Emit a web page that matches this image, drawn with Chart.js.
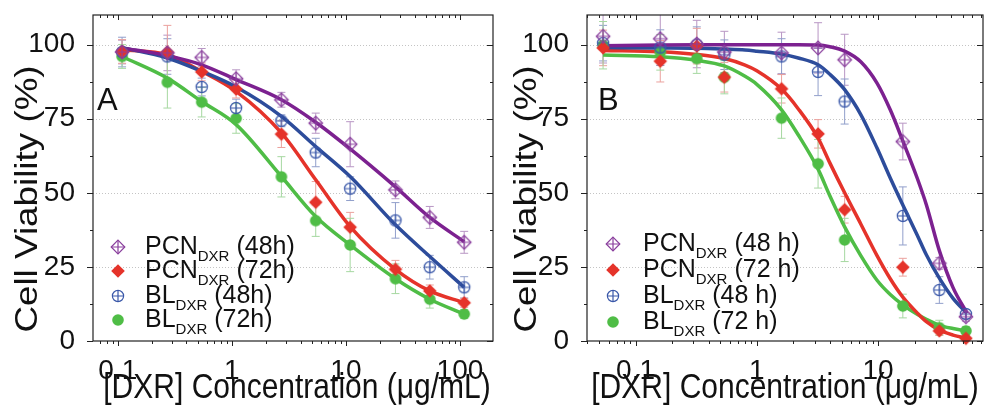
<!DOCTYPE html>
<html>
<head>
<meta charset="utf-8">
<script src="https://cdn.jsdelivr.net/npm/chart.js@4.4.0/dist/chart.umd.min.js"></script>
<style>
  html, body { margin: 0; padding: 0; background: #fff; }
  #wrapA { position: absolute; left: 0; top: 0; width: 500px; height: 405px; }
  #wrapB { position: absolute; left: 500px; top: 0; width: 490px; height: 405px; }
</style>
</head>
<body>
<div id="wrapA"><canvas id="chartA"></canvas></div>
<div id="wrapB"><canvas id="chartB"></canvas></div>
<script>
// ---- panel A data ----
var concA = [0.109, 0.272, 0.544, 1.09, 2.72, 5.44, 10.9, 27.2, 54.4, 109];
var pcn48A = [97.5, 97.2, 95.7, 88.5, 81.4, 73.5, 66.4, 51, 41.7, 33.3];
var pcn72A = [97.7, 97.5, 90.8, 85, 69.8, 46.8, 38.4, 24.2, 16.9, 12.9];
var bl48A = [97.5, 96, 85.7, 78.6, 74.3, 63.6, 51.4, 40.7, 24.9, 18.1];
var bl72A = [96, 87.3, 80.6, 75.1, 55.4, 40.6, 32.4, 21, 14.1, 9.1];
var pcn48AErr = [4, 6, 3, 3, 2.5, 3.4, 7.6, 3, 3.7, 3.7];
var pcn72AErr = [4, 9, 3, 3, 4.5, 7, 5, 3, 2, 1.5];
var bl48AErr = [5, 6, 3, 3, 2, 4.8, 4, 6, 4, 3.6];
var bl72AErr = [4, 8.7, 5, 5, 6.8, 5.3, 9, 5, 3, 1.5];
// fitted curves
var fitXA = [0.109, 0.272, 0.544, 1.09, 2.72, 5.44, 10.9, 27.2, 54.4, 109];
var fitPcn48A = [98.9, 96.3, 93.2, 88.2, 81.4, 73.8, 64.8, 52, 41.7, 33.5];
var fitPcn72A = [98.3, 96.6, 91, 84.2, 70.2, 54.4, 38.6, 24.2, 16.9, 12.9];
var fitBl48A = [99, 95.5, 91, 85.7, 75.8, 65.6, 55.5, 39.2, 28.5, 18.1];
var fitBl72A = [96, 88.7, 80.8, 73, 55.5, 42, 32.4, 21, 14.1, 9.1];

// ---- panel B data ----
var concB = [0.054, 0.16, 0.32, 0.54, 1.6, 3.2, 5.3, 16, 32, 53];
var pcn48B = [102.8, 102, 100.2, 97.5, 97.2, 98.9, 94.9, 67.3, 26.2, 8.2];
var pcn72B = [98.9, 94.4, 99.5, 89, 85.1, 69.9, 44.3, 24.9, 3.4, 0.9];
var bl48B = [100.5, 99, 100, 96.6, 96, 90.8, 80.8, 42.2, 17.2, 9.1];
var bl72B = [99.8, 97.4, 95.3, 89, 75.2, 59.8, 34.1, 11.8, 4.5, 3.4];
var pcn48BErr = [9, 9, 8, 7, 7, 8.5, 8.6, 6.2, 2, 1.5];
var pcn72BErr = [6, 7, 6, 5, 4.8, 4.8, 4.5, 3, 1.5, 1];
var bl48BErr = [6, 6, 6, 5, 6, 8, 7.6, 9.8, 4.5, 1.5];
var bl72BErr = [8, 6, 5, 5.6, 6.8, 8.2, 7.3, 4, 2.5, 1.5];
var fitXB = [0.054, 0.16, 0.32, 0.54, 0.8, 1.0, 1.6, 2.2, 3.2, 4.0, 5.3, 7.2, 9.8, 12.6, 16, 21, 25, 32, 41.5, 54];
var fitPcn48B = [99.6, 99.9, 100, 100, 100, 100, 100, 100, 99.9, 99.3, 97.8, 94.2, 87, 78, 67.5, 55, 46, 30.5, 18, 9.5];
var fitPcn72B = [98, 97.6, 96.7, 95.3, 93.1, 91.2, 85, 78.3, 68.5, 60.1, 50, 39.5, 28.8, 21, 14.8, 9.5, 6.5, 3.7, 2, 0.9];
var fitBl48B = [99, 98.9, 98.8, 98.5, 98.2, 97.8, 96.8, 95.5, 93.2, 90, 84.8, 76.4, 65.1, 55, 45.9, 35.8, 29.1, 21.2, 14.4, 9.4];
var fitBl72B = [96.5, 95.9, 94.7, 92.8, 89.3, 86.6, 78, 69.5, 58, 49, 38.5, 28.8, 20.5, 15.7, 12.2, 9, 7.3, 5.3, 4.2, 3.4];

// ---- axes / labels ----
var xTicksA = [0.1, 1, 10, 100];
var xTicksB = [0.1, 1, 10];
var yTicks = [0, 25, 50, 75, 100];
var xTitle = "[DXR] Concentration (\u03bcg/mL)";
var yTitle = "Cell Viability (%)";
var legendA = [["PCN", "DXR", " (48h)"], ["PCN", "DXR", " (72h)"], ["BL", "DXR", " (48h)"], ["BL", "DXR", " (72h)"]];
var legendB = [["PCN", "DXR", " (48 h)"], ["PCN", "DXR", " (72 h)"], ["BL", "DXR", " (48 h)"], ["BL", "DXR", " (72 h)"]];

var NARROW = "'Liberation Sans Narrow', 'Liberation Sans', Arial, sans-serif";
var SANS = "'Liberation Sans', Arial, sans-serif";

var colPurple = "#7c2190", colRed = "#e5332a", colBlue = "#2d4c9b", colGreen = "#4fbd46";
var errPurple = "#b896c4", errRed = "#eba19d", errBlue = "#919fcb", errGreen = "#a6d8a1";

function makeMarker(kind, color, r) {
    var s = Math.ceil(r * 2 + 4);
    var c = document.createElement("canvas");
    c.width = s; c.height = s;
    var g = c.getContext("2d");
    var m = s / 2;
    g.strokeStyle = color; g.fillStyle = color; g.lineWidth = 1.2;
    g.beginPath();
    if (kind.indexOf("diamond") === 0) {
        g.moveTo(m, m - r); g.lineTo(m + r, m); g.lineTo(m, m + r); g.lineTo(m - r, m); g.closePath();
    } else {
        g.arc(m, m, r, 0, Math.PI * 2);
    }
    if (kind.indexOf("Cross") > 0) {
        g.stroke();
        g.beginPath();
        g.moveTo(m - r, m); g.lineTo(m + r, m);
        g.moveTo(m, m - r); g.lineTo(m, m + r);
        g.stroke();
    } else {
        g.fill();
    }
    return c;
}

var mkPcn48 = makeMarker("diamondCross", "#8a3f9d", 6.8);
var mkPcn72 = makeMarker("diamond", colRed, 6.8);
var mkBl48 = makeMarker("circleCross", "#3a58a9", 5.6);
var mkBl72 = makeMarker("circle", colGreen, 5.8);

function pts(xs, ys) {
    return xs.map(function(x, i) { return { x: x, y: ys[i] }; });
}

var errorBars = {
    id: "errorBars",
    beforeDatasetsDraw: function(chart, args, opts) {
        var ctx = chart.ctx, xs = chart.scales.x, ys = chart.scales.y, a = chart.chartArea;
        ctx.save();
        ctx.beginPath();
        ctx.rect(a.left, a.top, a.right - a.left, a.bottom - a.top);
        ctx.clip();
        // dotted gridlines
        ctx.strokeStyle = "#c4c4c4";
        ctx.lineWidth = 1;
        ctx.setLineDash([1, 2]);
        yTicks.forEach(function(v) {
            if (v === 0) return;
            var py = Math.round(ys.getPixelForValue(v)) + 0.5;
            ctx.beginPath(); ctx.moveTo(a.left, py); ctx.lineTo(a.right, py); ctx.stroke();
        });
        ctx.setLineDash([]);
        ctx.lineWidth = 1;
        opts.sets.forEach(function(s) {
            ctx.strokeStyle = s.color;
            s.x.forEach(function(xv, i) {
                var px = xs.getPixelForValue(xv);
                var top = ys.getPixelForValue(s.y[i] + s.err[i]);
                var bot = ys.getPixelForValue(s.y[i] - s.err[i]);
                ctx.beginPath();
                ctx.moveTo(px, top); ctx.lineTo(px, bot);
                ctx.moveTo(px - 4, top); ctx.lineTo(px + 4, top);
                ctx.moveTo(px - 4, bot); ctx.lineTo(px + 4, bot);
                ctx.stroke();
            });
        });
        ctx.restore();
    }
};

var frame = {
    id: "frame",
    afterDatasetsDraw: function(chart) {
        var ctx = chart.ctx, xs = chart.scales.x, ys = chart.scales.y, a = chart.chartArea;
        ctx.save();
        ctx.strokeStyle = "#222";
        ctx.lineWidth = 1.2;
        ctx.strokeRect(a.left, a.top, a.right - a.left, a.bottom - a.top);
        ctx.lineWidth = 1;
        ctx.beginPath();
        var lo = Math.floor(Math.log10(xs.min)), hi = Math.ceil(Math.log10(xs.max));
        for (var d = lo; d <= hi; d++) {
            for (var m = 1; m <= 9; m++) {
                var v = m * Math.pow(10, d);
                if (v < xs.min || v > xs.max) continue;
                var px = Math.round(xs.getPixelForValue(v)) + 0.5;
                var len = m === 1 ? 5 : 3;
                ctx.moveTo(px, a.bottom); ctx.lineTo(px, a.bottom + len);
                ctx.moveTo(px, a.top); ctx.lineTo(px, a.top + len);
            }
        }
        for (var y = 0; y <= ys.max; y += 12.5) {
            var py = Math.round(ys.getPixelForValue(y)) + 0.5;
            var ln = (y % 25 === 0) ? 6 : 3;
            ctx.moveTo(a.left, py); ctx.lineTo(a.left - ln, py);
            ctx.moveTo(a.right, py); ctx.lineTo(a.right - ln, py);
        }
        ctx.stroke();
        ctx.restore();
    },
    afterDraw: function(chart, args, opts) {
        var ctx = chart.ctx, a = chart.chartArea;
        ctx.save();
        ctx.fillStyle = "#111";
        // axis titles (slightly stretched like the original figure)
        ctx.save();
        ctx.translate(opts.yTitleX, opts.yTitleY);
        ctx.rotate(-Math.PI / 2);
        ctx.scale(1.15, 1);
        ctx.font = "32px " + SANS;
        ctx.textAlign = "center";
        ctx.textBaseline = "alphabetic";
        ctx.fillText(yTitle, 0, 11.5);
        ctx.restore();
        ctx.save();
        ctx.translate((a.left + a.right) / 2 + opts.xTitleShift, 398);
        ctx.scale(1, 1.15);
        ctx.font = "30px " + SANS;
        ctx.textAlign = "center";
        ctx.textBaseline = "alphabetic";
        ctx.fillText(xTitle, 0, 0);
        ctx.restore();
        // panel letter
        ctx.font = "31px " + SANS;
        ctx.textBaseline = "alphabetic";
        ctx.fillText(opts.panel, opts.panelX, opts.panelY);
        // legend with subscripts
        var marks = [mkPcn48, mkPcn72, mkBl48, mkBl72];
        opts.legend.forEach(function(row, i) {
            var y = opts.legY[i];
            var mk = marks[i];
            ctx.drawImage(mk, opts.legMX - mk.width / 2, y - mk.height / 2);
            var x = opts.legTX;
            ctx.textBaseline = "middle";
            ctx.font = "25px " + NARROW;
            ctx.fillText(row[0], x, y);
            x += ctx.measureText(row[0]).width;
            ctx.font = "15px " + SANS;
            ctx.fillText(row[1], x, y + 10);
            x += ctx.measureText(row[1]).width;
            ctx.font = "25px " + NARROW;
            ctx.fillText(row[2], x, y);
        });
        ctx.restore();
    }
};

function buildChart(id, p) {
    var ctx = document.getElementById(id).getContext("2d");
    var pointSet = function(label, xs, ys, mk) {
        return { label: label, data: pts(xs, ys), showLine: false, pointStyle: mk,
                 pointRadius: 6, pointHoverRadius: 6, clip: false, order: 0 };
    };
    var fitSet = function(xs, ys, col) {
        return { data: pts(xs, ys), showLine: true, borderColor: col, borderWidth: 3.5,
                 pointRadius: 0, cubicInterpolationMode: "monotone", fill: false, order: 1 };
    };
    return new Chart(ctx, {
        type: "scatter",
        data: {
            datasets: [
                pointSet("PCN48", p.conc, p.pcn48, mkPcn48),
                pointSet("PCN72", p.conc, p.pcn72, mkPcn72),
                pointSet("BL48", p.conc, p.bl48, mkBl48),
                pointSet("BL72", p.conc, p.bl72, mkBl72),
                fitSet(p.fitX, p.fitPcn48, colPurple),
                fitSet(p.fitX, p.fitBl48, colBlue),
                fitSet(p.fitX, p.fitPcn72, colRed),
                fitSet(p.fitX, p.fitBl72, colGreen)
            ]
        },
        options: {
            responsive: true,
            maintainAspectRatio: false,
            animation: false,
            events: [],
            layout: { padding: { top: 15, right: p.padRight, left: 0, bottom: 0 } },
            plugins: {
                legend: { display: false },
                tooltip: { enabled: false },
                errorBars: { sets: [
                    { x: p.conc, y: p.pcn48, err: p.pcn48Err, color: errPurple },
                    { x: p.conc, y: p.bl48, err: p.bl48Err, color: errBlue },
                    { x: p.conc, y: p.pcn72, err: p.pcn72Err, color: errRed },
                    { x: p.conc, y: p.bl72, err: p.bl72Err, color: errGreen }
                ] },
                frame: p.frame
            },
            scales: {
                x: {
                    type: "logarithmic",
                    min: p.xMin, max: p.xMax,
                    grid: { display: false },
                    border: { display: false },
                    afterBuildTicks: function(s) { s.ticks = p.xTicks.map(function(v) { return { value: v }; }); },
                    afterFit: function(s) {
                        s.height = 64;
                        s.paddingLeft = 0; s.paddingRight = 0;
                    },
                    ticks: {
                        autoSkip: false, maxRotation: 0, padding: 8, color: "#111",
                        font: { family: NARROW, size: 28, lineHeight: 1 },
                        callback: function(v) { return String(v); }
                    },
                    title: { display: false }
                },
                y: {
                    min: 0, max: 110,
                    grid: { display: false },
                    border: { display: false },
                    afterBuildTicks: function(s) { s.ticks = yTicks.map(function(v) { return { value: v }; }); },
                    afterFit: function(s) {
                        s.width = p.yWidth;
                        s.paddingTop = 0; s.paddingBottom = 0;
                    },
                    ticks: { padding: 10, color: "#111", font: { family: NARROW, size: 28 } },
                    title: { display: false }
                }
            }
        },
        plugins: [errorBars, frame]
    });
}

buildChart("chartA", {
    conc: concA, pcn48: pcn48A, pcn72: pcn72A, bl48: bl48A, bl72: bl72A,
    pcn48Err: pcn48AErr, pcn72Err: pcn72AErr, bl48Err: bl48AErr, bl72Err: bl72AErr,
    fitX: fitXA, fitPcn48: fitPcn48A, fitPcn72: fitPcn72A, fitBl48: fitBl48A, fitBl72: fitBl72A,
    xMin: 0.0606, xMax: 195, xTicks: xTicksA, yWidth: 93, padRight: 4,
    frame: { panel: "A", panelX: 97, panelY: 110, legend: legendA,
             legMX: 118, legTX: 145, legY: [247, 271, 296, 320],
             yTitleX: 25, yTitleY: 199, xTitleShift: 4 }
});

buildChart("chartB", {
    conc: concB, pcn48: pcn48B, pcn72: pcn72B, bl48: bl48B, bl72: bl72B,
    pcn48Err: pcn48BErr, pcn72Err: pcn72BErr, bl48Err: bl48BErr, bl72Err: bl72BErr,
    fitX: fitXB, fitPcn48: fitPcn48B, fitPcn72: fitPcn72B, fitBl48: fitBl48B, fitBl72: fitBl72B,
    xMin: 0.0398, xMax: 73.3, xTicks: xTicksB, yWidth: 87, padRight: 3,
    frame: { panel: "B", panelX: 98, panelY: 110, legend: legendB,
             legMX: 113, legTX: 143, legY: [244, 270, 296, 322],
             yTitleX: 24, yTitleY: 199, xTitleShift: 0 }
});
</script>
</body>
</html>
